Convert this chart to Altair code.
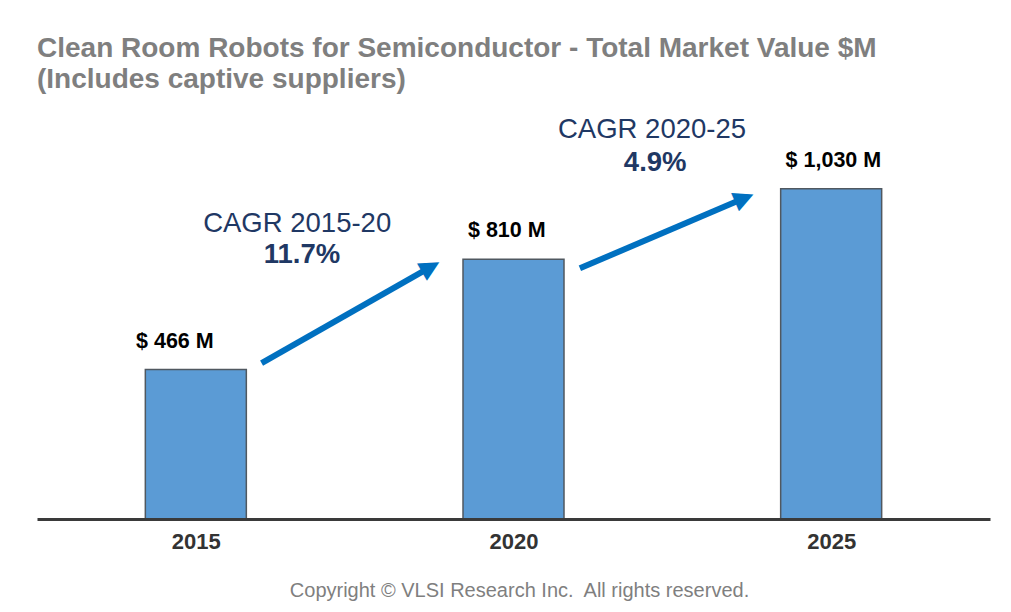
import altair as alt
import pandas as pd

# ---- data ----
years = ["2015", "2020", "2025"]
values = [466, 810, 1030]
value_labels = ["$ 466 M", "$ 810 M", "$ 1,030 M"]
label_x = [-0.066, 0.979, 2.007]          # label centres (bar index units)

cagr_titles = ["CAGR 2015-20", "CAGR 2020-25"]
cagr_values = ["11.7%", "4.9%"]
cagr_title_x = [0.319, 1.436]
cagr_title_y = [896, 1189]
cagr_value_x = [0.334, 1.446]
cagr_value_y = [799, 1086]

arrow_tail_x = [0.207, 1.209]
arrow_tail_y = [486, 782]
arrow_tip_x = [0.769, 1.755]
arrow_tip_y = [803, 1013]
arrow_angle = [60.3, 66.9]

title_lines = ["Clean Room Robots for Semiconductor - Total Market Value $M",
               "(Includes captive suppliers)"]
copyright_text = "Copyright \u00a9 VLSI Research Inc.\u00a0 All rights reserved."

FONT = "Liberation Sans"
NAVY = "#1F3864"
ARROW = "#0070C0"

bars_df = pd.DataFrame({"idx": list(range(len(years))), "value": values,
                        "label": value_labels, "lx": label_x})

xscale = alt.Scale(domain=[-0.5, 2.5], nice=False, zero=False, padding=0)
yscale = alt.Scale(domain=[0, 1307], nice=False, padding=0)

x_axis = alt.Axis(values=[0, 1, 2],
                  labelExpr="['2015','2020','2025'][datum.value]",
                  title=copyright_text, grid=False, ticks=False,
                  domainColor="#3A3A3A", domainWidth=3,
                  labelFont=FONT, labelFontSize=22, labelFontWeight="bold",
                  labelColor="#333333", labelPadding=12,
                  titleFont=FONT, titleFontSize=20, titleFontWeight="normal",
                  titleColor="#7F7F7F", titlePadding=28, titleX=482,
                  zindex=1)

bars = alt.Chart(bars_df).mark_bar(size=101, color="#5B9BD5",
                                   stroke="#505860", strokeWidth=1.5).encode(
    x=alt.X("idx:Q", scale=xscale, axis=x_axis),
    y=alt.Y("value:Q", scale=yscale, axis=None),
)

labels = alt.Chart(bars_df).mark_text(font=FONT, fontSize=21.5, fontWeight="bold",
                                      color="#000000", baseline="alphabetic",
                                      dy=-22).encode(
    x=alt.X("lx:Q", scale=xscale), y=alt.Y("value:Q", scale=yscale),
    text="label:N")

# arrows: shaft from tail to the arrow-head centre, head as a rotated triangle glyph
HEAD_FRAC = 0.953
arrow_df = pd.DataFrame({
    "x0": arrow_tail_x, "y0": arrow_tail_y,
    "hx": [a + HEAD_FRAC * (b - a) for a, b in zip(arrow_tail_x, arrow_tip_x)],
    "hy": [a + HEAD_FRAC * (b - a) for a, b in zip(arrow_tail_y, arrow_tip_y)],
    "ang": arrow_angle})

arrow_lines = alt.Chart(arrow_df).mark_rule(color=ARROW, strokeWidth=6).encode(
    x=alt.X("x0:Q", scale=xscale), y=alt.Y("y0:Q", scale=yscale),
    x2="hx:Q", y2="hy:Q")

head_layers = []
for i in range(len(arrow_angle)):
    head_layers.append(
        alt.Chart(arrow_df.iloc[[i]]).mark_text(
            text="\u25B2", font="DejaVu Sans", fontSize=26, color=ARROW,
            align="center", baseline="middle", angle=arrow_angle[i]
        ).encode(x=alt.X("hx:Q", scale=xscale), y=alt.Y("hy:Q", scale=yscale)))

cagr_df = pd.DataFrame({"tx": cagr_title_x, "ty": cagr_title_y,
                        "vx": cagr_value_x, "vy": cagr_value_y,
                        "t": cagr_titles, "v": cagr_values})

cagr_t = alt.Chart(cagr_df).mark_text(font=FONT, fontSize=27.5, color=NAVY,
                                      baseline="alphabetic").encode(
    x=alt.X("tx:Q", scale=xscale), y=alt.Y("ty:Q", scale=yscale), text="t:N")
cagr_v = alt.Chart(cagr_df).mark_text(font=FONT, fontSize=27.5, fontWeight="bold",
                                      color=NAVY, baseline="alphabetic").encode(
    x=alt.X("vx:Q", scale=xscale), y=alt.Y("vy:Q", scale=yscale), text="v:N")

chart = alt.layer(bars, labels, cagr_t, cagr_v, arrow_lines, *head_layers).properties(
    width=953, height=419,
    padding={"left": 37, "top": 100, "right": 21, "bottom": 93},
    autosize=alt.AutoSizeParams(type="none"),
    background="#FFFFFF",
    title=alt.TitleParams(text=title_lines, anchor="start", font=FONT,
                          fontSize=28, fontWeight="bold", color="#7F7F7F",
                          lineHeight=31, offset=6),
).configure_view(strokeWidth=0)

chart.save("out.html", embed_options={"renderer": "svg", "actions": False})
